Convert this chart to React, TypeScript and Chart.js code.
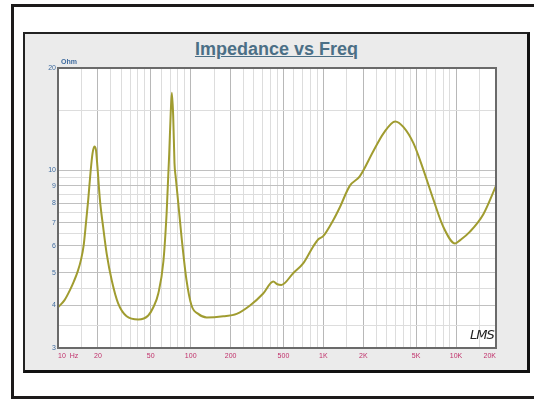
import React, { useEffect, useRef } from 'react';
import { Chart, registerables } from 'chart.js';

Chart.register(...registerables);

// Frequency response points (Hz) and impedance (Ohm)
const freqHz = [
  10, 11.2, 12.3, 13.2, 14.1, 14.9, 15.6, 16.25, 16.9, 17.6, 18.2, 18.8, 19.3, 19.8, 20.7, 21.9, 23.3, 25.4, 28.4, 32.9, 40.3,
  47.9, 52.4, 57.0, 62.3, 66.0, 68.9, 70.7, 72.1, 73.8, 75.5, 77.0, 79.2, 85.2, 93.0, 101.5, 114, 132,
  176, 222, 280, 352, 419, 450, 483, 592, 704, 836, 913, 997, 1186, 1334, 1580, 1880, 2383, 2839,
  3481, 4018, 4782, 5690, 6762, 8040, 9836, 10730, 12740, 16100, 20000,
];
const impedanceOhm = [
  3.95, 4.15, 4.44, 4.72, 5.05, 5.45, 6.0, 7.0, 8.2, 9.9, 11.2, 11.75, 11.5, 10.3, 8.18, 6.8, 5.67, 4.75, 4.06, 3.72, 3.64,
  3.74, 3.96, 4.34, 5.4, 7.6, 11.2, 14.7, 16.9, 14.5, 10.5, 9.6, 8.6, 6.4, 4.75, 4.0, 3.78, 3.69,
  3.72, 3.78, 4.0, 4.34, 4.71, 4.62, 4.6, 4.98, 5.32, 5.96, 6.26, 6.4, 7.13, 7.8, 9.0, 9.6, 11.4, 12.85,
  13.93, 13.4, 12.0, 10.0, 8.18, 6.8, 6.09, 6.23, 6.6, 7.44, 9.0,
];

// Axis ticks and grid
const xTickValues = [10, 20, 50, 100, 200, 500, 1000, 2000, 5000, 10000, 20000];
const xTickLabels = ['10  Hz', '20', '50', '100', '200', '500', '1K', '2K', '5K', '10K', '20K'];
const xDecades = [10, 100, 1000, 10000];
const xGridSteps = [1, 1.5, 2, 2.5, 3, 3.5, 4, 4.5, 5, 6, 7, 8, 9];
const yTickValues = [3, 4, 5, 6, 7, 8, 9, 10, 20];
const yTickLabels = ['3', '4', '5', '6', '7', '8', '9', '10', '20'];
const yGridValues = [3, 3.5, 4, 4.5, 5, 5.5, 6, 6.5, 7, 7.5, 8, 8.5, 9, 9.5, 10, 15, 20];

const xGridValues: number[] = [];
xDecades.forEach((d) => xGridSteps.forEach((s) => { const v = d * s; if (v <= 20000) xGridValues.push(v); }));

const near = (a: number, b: number) => Math.abs(a - b) / b < 1e-6;
const labelFor = (vals: number[], labels: string[], v: number) => {
  const i = vals.findIndex((t) => near(v, t));
  return i >= 0 ? labels[i] : '';
};

const framePlugin = {
  id: 'frameBox',
  beforeDraw(chart: any) {
    const { ctx, chartArea: a } = chart;
    ctx.save();
    ctx.fillStyle = '#ffffff';
    ctx.fillRect(a.left, a.top, a.right - a.left, a.bottom - a.top);
    ctx.restore();
  },
  afterDraw(chart: any) {
    const { ctx, chartArea: a } = chart;
    ctx.save();
    ctx.strokeStyle = '#6a6a6a';
    ctx.lineWidth = 2;
    ctx.strokeRect(a.left, a.top, a.right - a.left, a.bottom - a.top);
    ctx.fillStyle = '#3f6b9e';
    ctx.font = 'bold 7px "Liberation Sans", Arial, sans-serif';
    ctx.textBaseline = 'bottom';
    ctx.textAlign = 'left';
    ctx.fillText('Ohm', a.left + 3, a.top - 2);
    ctx.restore();
  },
};

function ImpedanceChart() {
  const ref = useRef<HTMLCanvasElement | null>(null);
  useEffect(() => {
    if (!ref.current) return;
    const chart = new Chart(ref.current, {
      type: 'line',
      data: {
        datasets: [
          {
            data: freqHz.map((f, i) => ({ x: f, y: impedanceOhm[i] })),
            borderColor: '#a09c30',
            borderWidth: 2,
            pointRadius: 0,
            cubicInterpolationMode: 'monotone',
            fill: false,
          },
        ],
      },
      options: {
        animation: false,
        responsive: false,
        devicePixelRatio: 1,
        layout: { padding: { top: 34, right: 33, left: 0, bottom: 0 } },
        plugins: { legend: { display: false }, tooltip: { enabled: false }, title: { display: false } },
        scales: {
          x: {
            type: 'logarithmic',
            min: 10,
            max: 20000,
            afterBuildTicks: (s: any) => { s.ticks = xGridValues.map((v) => ({ value: v })); },
            afterFit: (s: any) => { s.height = 24; },
            border: { display: false },
            grid: {
              drawTicks: false,
              lineWidth: 1,
              color: (c: any) => (xTickValues.some((t) => near(c.tick.value, t)) ? '#b8b8b8' : '#dddddd'),
            },
            ticks: {
              autoSkip: false,
              maxRotation: 0,
              minRotation: 0,
              align: 'inner',
              padding: 4,
              color: '#c0306a',
              font: { size: 7, family: '"Liberation Sans", Arial, sans-serif' },
              callback: (v: any) => labelFor(xTickValues, xTickLabels, Number(v)),
            },
          },
          y: {
            type: 'logarithmic',
            min: 3,
            max: 20,
            afterBuildTicks: (s: any) => { s.ticks = yGridValues.map((v) => ({ value: v })); },
            afterFit: (s: any) => { s.width = 34; },
            border: { display: false },
            grid: {
              drawTicks: false,
              lineWidth: 1,
              color: (c: any) => (yTickValues.some((t) => near(c.tick.value, t)) ? '#c0c0c0' : '#dddddd'),
            },
            ticks: {
              autoSkip: false,
              padding: 2,
              color: '#3f6b9e',
              font: { size: 7, family: '"Liberation Sans", Arial, sans-serif' },
              callback: (v: any) => labelFor(yTickValues, yTickLabels, Number(v)),
            },
          },
        },
      } as any,
      plugins: [framePlugin],
    });
    return () => chart.destroy();
  }, []);
  return (
    <canvas
      ref={ref}
      width={505}
      height={338}
      style={{ position: 'absolute', left: 24, top: 34, width: 505, height: 338 }}
    />
  );
}

export default function App() {
  return (
    <div style={{ position: 'absolute', left: 0, top: 0, width: 534, height: 400, overflow: 'hidden', background: '#ffffff' }}>
      <div style={{ position: 'absolute', left: 11, top: 4, width: 540, height: 395, border: '3px solid #1c1a1a', boxSizing: 'border-box' }} />
      <div
        style={{
          position: 'absolute', left: 23, top: 32, width: 507, height: 341,
          background: '#ebebeb', boxSizing: 'border-box',
          borderTop: '2px solid #222', borderLeft: '2px solid #222',
          borderRight: '3px solid #111', borderBottom: '3px solid #111',
        }}
      />
      <div
        style={{
          position: 'absolute', left: 23, top: 39, width: 507, textAlign: 'center',
          font: 'bold 18px "Liberation Sans", Arial, sans-serif', lineHeight: '20px',
          color: '#4b6f86', textDecoration: 'underline',
        }}
      >
        Impedance vs Freq
      </div>
      <ImpedanceChart />
      <div
        style={{
          position: 'absolute', left: 470, top: 327,
          font: 'italic 13px "DejaVu Sans", sans-serif', color: '#222', letterSpacing: '-1px',
        }}
      >
        LMS
      </div>
    </div>
  );
}
